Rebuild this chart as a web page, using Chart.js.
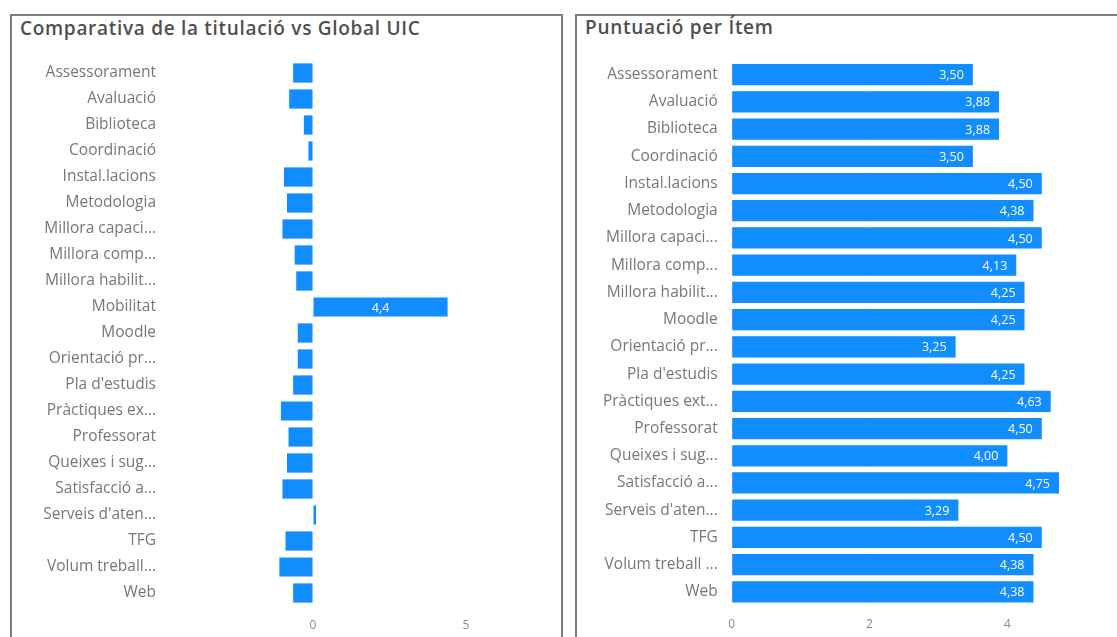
<!DOCTYPE html>
<html>
<head>
<meta charset="utf-8">
<script src="https://cdn.jsdelivr.net/npm/chart.js@4/dist/chart.umd.min.js"></script>
<style>
  body { margin: 0; width: 1117px; height: 637px; overflow: hidden; background: #fff; font-family: "Open Sans", sans-serif; }
  .panel { position: absolute; border: 2px solid #7c7c7c; border-bottom: none; box-sizing: border-box; }
  #p1 { left: 10px; top: 14px; width: 553px; height: 640px; }
  #p2 { left: 575px; top: 14px; width: 560px; height: 640px; border-right: none; }
  .title { position: absolute; font-weight: 600; font-size: 19px; letter-spacing: 0.7px; color: #4f4f4f; white-space: nowrap; }
  #t1 { left: 20px; top: 15px; }
  #t2 { left: 585px; top: 14px; }
  canvas { position: absolute; }
  #c1 { left: 12px; top: 44px; }
  #c2 { left: 578px; top: 44px; }
</style>
</head>
<body>
<div class="panel" id="p1"></div>
<div class="panel" id="p2"></div>
<div class="title" id="t1">Comparativa de la titulació vs Global UIC</div>
<div class="title" id="t2">Puntuació per Ítem</div>
<canvas id="c1" width="548" height="593"></canvas>
<canvas id="c2" width="539" height="593"></canvas>
<script>
// Left chart: difference between the degree and the UIC global average
const compareItems = [
  "Assessorament", "Avaluació", "Biblioteca", "Coordinació", "Instal.lacions",
  "Metodologia", "Millora capaci...", "Millora comp...", "Millora habilit...", "Mobilitat",
  "Moodle", "Orientació pr...", "Pla d'estudis", "Pràctiques ex...", "Professorat",
  "Queixes i sug...", "Satisfacció a...", "Serveis d'aten...", "TFG", "Volum treball...", "Web"
];
const compareValues = [
  -0.65, -0.78, -0.3, -0.15, -0.95,
  -0.85, -1.0, -0.6, -0.55, 4.4,
  -0.5, -0.5, -0.65, -1.05, -0.8,
  -0.85, -1.0, 0.1, -0.9, -1.1, -0.65
];
const compareTicks = [0, 5];

// Right chart: score per item
const scoreItems = [
  "Assessorament", "Avaluació", "Biblioteca", "Coordinació", "Instal.lacions",
  "Metodologia", "Millora capaci...", "Millora comp...", "Millora habilit...", "Moodle",
  "Orientació pr...", "Pla d'estudis", "Pràctiques ext...", "Professorat", "Queixes i sug...",
  "Satisfacció a...", "Serveis d'aten...", "TFG", "Volum treball ...", "Web"
];
const scoreValues = [
  3.50, 3.88, 3.88, 3.50, 4.50,
  4.38, 4.50, 4.13, 4.25, 4.25,
  3.25, 4.25, 4.63, 4.50, 4.00,
  4.75, 3.29, 4.50, 4.38, 4.38
];
const scoreTicks = [0, 2, 4];

const BLUE = "#118DFF";
const FONT = "'Open Sans', sans-serif";

// Draws value labels inside each bar when they fit
const barLabels = {
  id: "barLabels",
  afterDatasetsDraw(chart, args, opts) {
    const ctx = chart.ctx;
    const meta = chart.getDatasetMeta(0);
    const values = chart.data.datasets[0].data;
    ctx.save();
    ctx.font = "12.5px " + FONT;
    ctx.fillStyle = "#ffffff";
    ctx.textBaseline = "middle";
    meta.data.forEach((bar, i) => {
      const txt = values[i].toFixed(opts.decimals).replace(".", ",");
      const w = Math.abs(bar.x - bar.base);
      const tw = ctx.measureText(txt).width;
      if (w < tw + 16) return;
      if (opts.align === "center") {
        ctx.textAlign = "center";
        ctx.fillText(txt, (bar.x + bar.base) / 2, bar.y + 1);
      } else {
        ctx.textAlign = "right";
        ctx.fillText(txt, bar.x - 9, bar.y + 1);
      }
    });
    ctx.restore();
  }
};

function makeChart(id, labels, values, cfg) {
  return new Chart(document.getElementById(id), {
    type: "bar",
    data: {
      labels: labels,
      datasets: [{
        data: values,
        backgroundColor: BLUE,
        borderWidth: 0,
        categoryPercentage: 1,
        barPercentage: cfg.barPct
      }]
    },
    options: {
      indexAxis: "y",
      responsive: false,
      animation: false,
      layout: { padding: cfg.padding },
      plugins: {
        legend: { display: false },
        tooltip: { enabled: false },
        barLabels: { decimals: cfg.decimals, align: cfg.align }
      },
      scales: {
        x: {
          min: cfg.min,
          max: cfg.max,
          afterBuildTicks(scale) { scale.ticks = cfg.ticks.map(v => ({ value: v })); },
          afterFit(scale) {
            scale.height = cfg.xHeight;
            scale.paddingLeft = 0;
            scale.paddingRight = 0;
          },
          grid: { color: "rgba(0,0,0,0.07)", drawTicks: false, lineWidth: 1 },
          border: { display: false, dash: [1, 3] },
          ticks: { color: "#8a8a8a", font: { size: 12, family: FONT }, padding: 12 }
        },
        y: {
          afterFit(scale) {
            scale.width = cfg.yWidth;
            scale.paddingTop = 0;
            scale.paddingBottom = 0;
          },
          grid: { display: false, drawTicks: false },
          border: { display: false },
          ticks: { color: "#777777", font: { size: 15.5, family: FONT }, padding: cfg.labelPad, autoSkip: false }
        }
      }
    },
    plugins: [barLabels]
  });
}

makeChart("c1", compareItems, compareValues, {
  min: -4.84, max: 5.46, ticks: compareTicks,
  yWidth: 153, labelPad: 9, xHeight: 31,
  padding: { top: 16, right: 80, bottom: 0, left: 0 },
  barPct: 0.74, decimals: 1, align: "center"
});

makeChart("c2", scoreItems, scoreValues, {
  min: 0, max: 5.2, ticks: scoreTicks,
  yWidth: 153.7, labelPad: 14, xHeight: 31.5,
  padding: { top: 17, right: 27, bottom: 0, left: 0 },
  barPct: 0.78, decimals: 2, align: "right"
});
</script>
</body>
</html>
